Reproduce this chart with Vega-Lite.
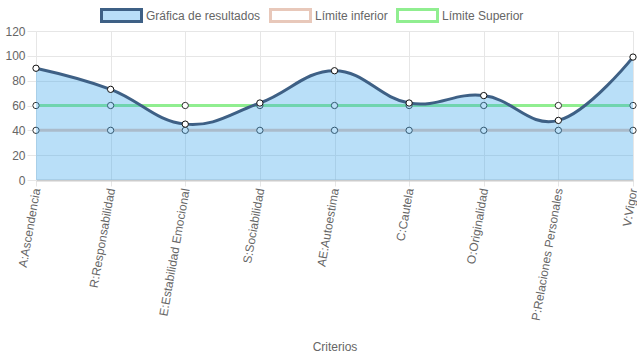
{
  "$schema": "https://vega.github.io/schema/vega-lite/v6.json",
  "autosize": "none",
  "width": 597,
  "height": 149,
  "padding": {"left": 36, "top": 31, "right": 4, "bottom": 179},
  "background": "white",
  "config": {
    "font": "Liberation Sans",
    "view": {"stroke": null},
    "axis": {"labelFont": "Liberation Sans", "labelFontSize": 12, "labelColor": "#666666", "titleFont": "Liberation Sans", "titleFontSize": 12, "titleFontWeight": "normal", "titleColor": "#666666", "gridColor": "#e6e6e6", "tickColor": "#e6e6e6", "domainColor": "#e6e6e6"}
  },
  "datasets": {
    "rows": [
      {"criterio": "A:Ascendencia", "serie": "Gráfica de resultados", "valor": 90},
      {"criterio": "R:Responsabilidad", "serie": "Gráfica de resultados", "valor": 73},
      {"criterio": "E:Estabilidad Emocional", "serie": "Gráfica de resultados", "valor": 45},
      {"criterio": "S:Sociabilidad", "serie": "Gráfica de resultados", "valor": 62},
      {"criterio": "AE:Autoestima", "serie": "Gráfica de resultados", "valor": 88},
      {"criterio": "C:Cautela", "serie": "Gráfica de resultados", "valor": 62},
      {"criterio": "O:Originalidad", "serie": "Gráfica de resultados", "valor": 68},
      {"criterio": "P:Relaciones Personales", "serie": "Gráfica de resultados", "valor": 48},
      {"criterio": "V:Vigor", "serie": "Gráfica de resultados", "valor": 99},
      {"criterio": "A:Ascendencia", "serie": "Límite inferior", "valor": 40},
      {"criterio": "R:Responsabilidad", "serie": "Límite inferior", "valor": 40},
      {"criterio": "E:Estabilidad Emocional", "serie": "Límite inferior", "valor": 40},
      {"criterio": "S:Sociabilidad", "serie": "Límite inferior", "valor": 40},
      {"criterio": "AE:Autoestima", "serie": "Límite inferior", "valor": 40},
      {"criterio": "C:Cautela", "serie": "Límite inferior", "valor": 40},
      {"criterio": "O:Originalidad", "serie": "Límite inferior", "valor": 40},
      {"criterio": "P:Relaciones Personales", "serie": "Límite inferior", "valor": 40},
      {"criterio": "V:Vigor", "serie": "Límite inferior", "valor": 40},
      {"criterio": "A:Ascendencia", "serie": "Límite Superior", "valor": 60},
      {"criterio": "R:Responsabilidad", "serie": "Límite Superior", "valor": 60},
      {"criterio": "E:Estabilidad Emocional", "serie": "Límite Superior", "valor": 60},
      {"criterio": "S:Sociabilidad", "serie": "Límite Superior", "valor": 60},
      {"criterio": "AE:Autoestima", "serie": "Límite Superior", "valor": 60},
      {"criterio": "C:Cautela", "serie": "Límite Superior", "valor": 60},
      {"criterio": "O:Originalidad", "serie": "Límite Superior", "valor": 60},
      {"criterio": "P:Relaciones Personales", "serie": "Límite Superior", "valor": 60},
      {"criterio": "V:Vigor", "serie": "Límite Superior", "valor": 60}
    ]
  },
  "data": {"name": "rows"},
  "encoding": {
    "x": {
      "field": "criterio", "type": "ordinal", "title": "Criterios",
      "scale": {"type": "point", "padding": 0, "domain": ["A:Ascendencia", "R:Responsabilidad", "E:Estabilidad Emocional", "S:Sociabilidad", "AE:Autoestima", "C:Cautela", "O:Originalidad", "P:Relaciones Personales", "V:Vigor"]},
      "axis": {"labelAngle": -80, "grid": true, "tickSize": 6, "labelPadding": 2, "domainColor": "#cccccc", "domainWidth": 2, "titlePadding": 20}
    },
    "y": {
      "field": "valor", "type": "quantitative", "title": null,
      "scale": {"domain": [0, 120], "nice": false},
      "axis": {"values": [0, 20, 40, 60, 80, 100, 120], "tickSize": 9, "labelPadding": 2, "grid": true}
    }
  },
  "layer": [
    {
      "transform": [{"filter": "datum.serie !== 'Gráfica de resultados'"}],
      "mark": {"type": "line", "strokeWidth": 3},
      "encoding": {
        "color": {
          "field": "serie", "type": "nominal",
          "scale": {"domain": ["Gráfica de resultados", "Límite inferior", "Límite Superior"], "range": ["#3e6085", "#e8c8ba", "#90ee90"]},
          "legend": {
            "title": null, "orient": "none", "direction": "horizontal", "legendX": 64, "legendY": -37,
            "gridAlign": "none",
            "symbolType": "M-1,-0.3H1V0.3H-1Z", "symbolSize": 1600, "symbolStrokeWidth": 3,
            "labelFont": "Liberation Sans", "labelFontSize": 12, "labelColor": "#666666", "labelOffset": 3, "columnPadding": 3,
            "encode": {"symbols": {"update": {"fill": {"signal": "datum.value === 'Gráfica de resultados' ? '#b9def8' : '#ffffff'"}, "fillOpacity": {"value": 1}, "opacity": {"value": 1}}}}
          }
        }
      }
    },
    {
      "transform": [{"filter": "datum.serie !== 'Gráfica de resultados'"}],
      "mark": {"type": "point", "shape": "circle", "filled": false, "fill": "white", "stroke": "#333333", "strokeWidth": 1, "size": 40, "opacity": 1}
    },
    {
      "transform": [{"filter": "datum.serie === 'Gráfica de resultados'"}],
      "mark": {"type": "area", "interpolate": "cardinal", "tension": -0.2, "fill": "#36a2eb", "fillOpacity": 0.35}
    },
    {
      "transform": [{"filter": "datum.serie === 'Gráfica de resultados'"}],
      "mark": {"type": "line", "interpolate": "cardinal", "tension": -0.2, "strokeWidth": 3},
      "encoding": {"color": {"field": "serie", "type": "nominal"}}
    },
    {
      "transform": [{"filter": "datum.serie === 'Gráfica de resultados'"}],
      "mark": {"type": "point", "shape": "circle", "filled": false, "fill": "white", "stroke": "#111111", "strokeWidth": 1, "size": 40, "opacity": 1}
    }
  ]
}
